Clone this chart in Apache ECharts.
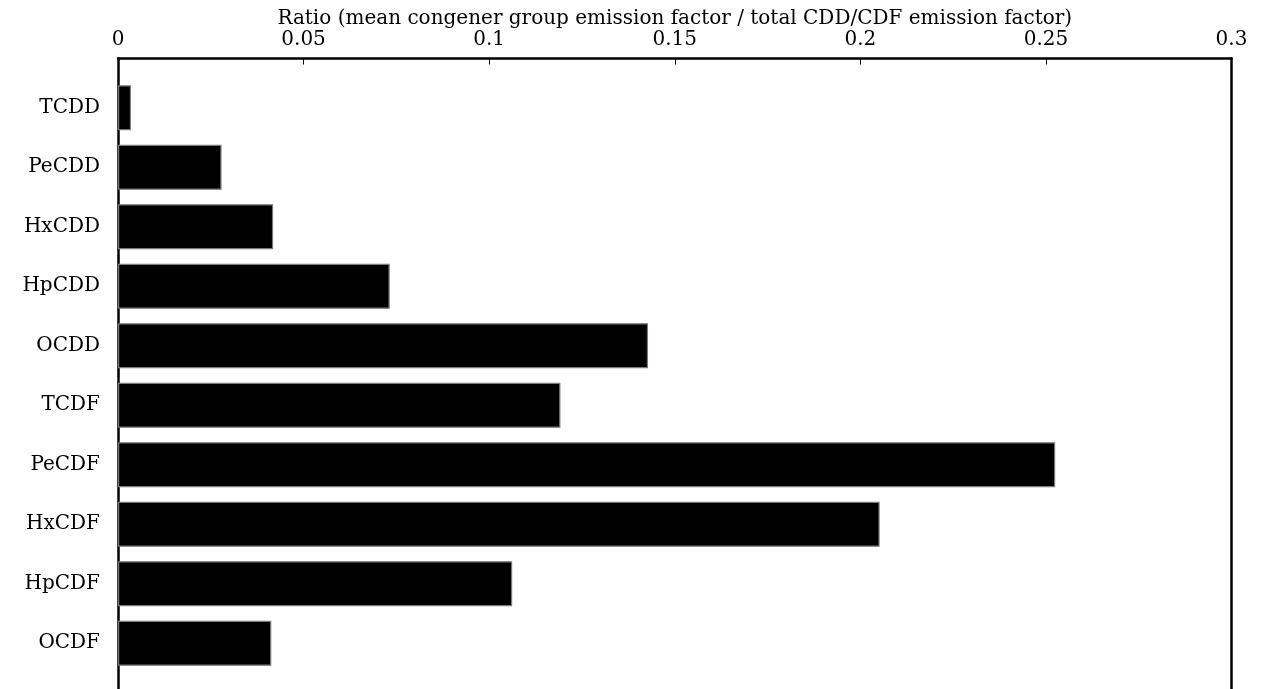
<!DOCTYPE html>
<html>
<head>
<meta charset="utf-8">
<script src="https://cdn.jsdelivr.net/npm/echarts@6/dist/echarts.min.js"></script>
<style>
  html, body { margin: 0; padding: 0; background: #fff; }
  #chart { width: 1265px; height: 689px; }
</style>
</head>
<body>
<div id="chart"></div>
<script>
// Congener groups, top to bottom
const categories = ['TCDD', 'PeCDD', 'HxCDD', 'HpCDD', 'OCDD', 'TCDF', 'PeCDF', 'HxCDF', 'HpCDF', 'OCDF'];
// Mean congener group emission factor divided by total CDD/CDF emission factor
const ratios = [0.0035, 0.0279, 0.0418, 0.0732, 0.1428, 0.1192, 0.2525, 0.2052, 0.1062, 0.0413];
// Ratio axis range and tick step
const xMin = 0;
const xMax = 0.3;
const xStep = 0.05;
const axisTitle = 'Ratio (mean congener group emission factor / total CDD/CDF emission factor)';

const font = '"DejaVu Serif", "Liberation Serif", serif';
const fontSize = 20;

const chart = echarts.init(document.getElementById('chart'), null, { renderer: 'canvas' });

const frameLine = { show: true, onZero: false, lineStyle: { color: '#000', width: 2.5 } };

chart.setOption({
  animation: false,
  backgroundColor: '#fff',
  grid: [
    // outer frame with the ratio scale on top
    { left: 118, right: 33.5, top: 58.5, height: 660, outerBoundsMode: 'none', containLabel: false },
    // inner area holding the bars
    { left: 118, right: 33.5, top: 78, height: 595, outerBoundsMode: 'none', containLabel: false }
  ],
  xAxis: [
    {
      gridIndex: 0,
      type: 'value',
      position: 'top',
      min: xMin,
      max: xMax,
      interval: xStep,
      name: axisTitle,
      nameLocation: 'middle',
      nameGap: 30,
      nameMoveOverlap: false,
      nameTextStyle: { fontFamily: font, fontSize: fontSize, color: '#000' },
      axisLine: frameLine,
      axisTick: { show: true, inside: true, length: 6, lineStyle: { color: '#000', width: 1 } },
      axisLabel: { fontFamily: font, fontSize: fontSize, color: '#000', margin: 9 },
      splitLine: { show: false }
    },
    {
      gridIndex: 1,
      type: 'value',
      min: xMin,
      max: xMax,
      show: false,
      splitLine: { show: false }
    }
  ],
  yAxis: [
    {
      // left frame edge
      gridIndex: 0,
      type: 'value',
      position: 'left',
      axisLine: frameLine,
      axisTick: { show: false },
      axisLabel: { show: false },
      splitLine: { show: false }
    },
    {
      // right frame edge
      gridIndex: 0,
      type: 'value',
      position: 'right',
      axisLine: frameLine,
      axisTick: { show: false },
      axisLabel: { show: false },
      splitLine: { show: false }
    },
    {
      gridIndex: 1,
      type: 'category',
      inverse: true,
      data: categories,
      axisLine: { show: false },
      axisTick: { show: false },
      axisLabel: { fontFamily: font, fontSize: fontSize, color: '#000', margin: 18 }
    }
  ],
  series: [
    {
      type: 'bar',
      xAxisIndex: 1,
      yAxisIndex: 2,
      data: ratios,
      barWidth: 45,
      itemStyle: { color: '#000', borderColor: '#7a7a7a', borderWidth: 1.2 }
    }
  ]
});
</script>
</body>
</html>
